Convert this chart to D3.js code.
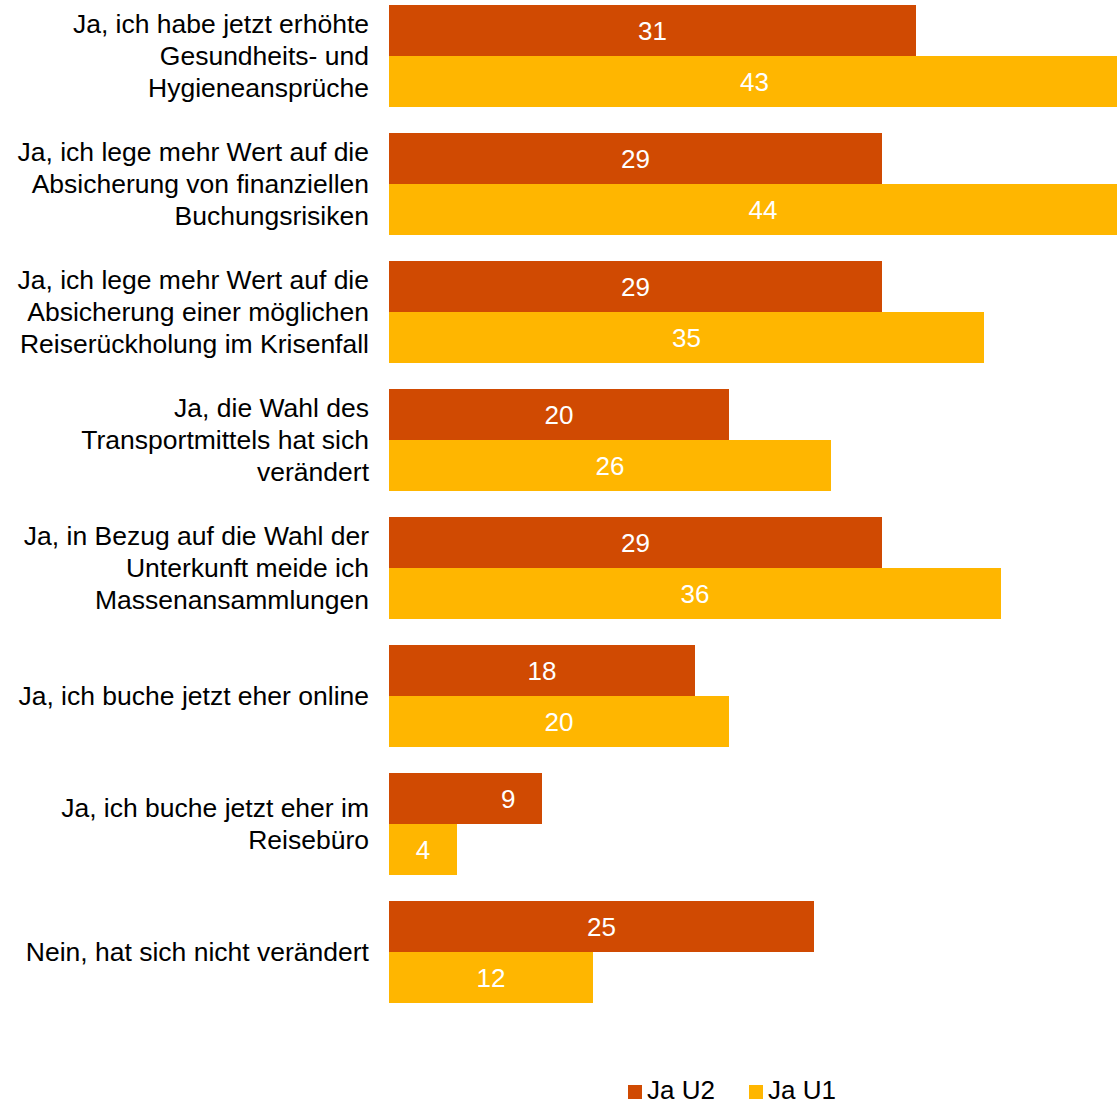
<!DOCTYPE html>
<html><head><meta charset="utf-8">
<script src="https://cdn.jsdelivr.net/npm/d3@7"></script>
<style>html,body{margin:0;padding:0;background:#fff;overflow:hidden}svg{display:block}</style>
</head><body>
<script>
const categories = [
  ["Ja, ich habe jetzt erhöhte","Gesundheits- und","Hygieneansprüche"],
  ["Ja, ich lege mehr Wert auf die","Absicherung von finanziellen","Buchungsrisiken"],
  ["Ja, ich lege mehr Wert auf die","Absicherung einer möglichen","Reiserückholung im Krisenfall"],
  ["Ja, die Wahl des","Transportmittels hat sich","verändert"],
  ["Ja, in Bezug auf die Wahl der","Unterkunft meide ich","Massenansammlungen"],
  ["Ja, ich buche jetzt eher online"],
  ["Ja, ich buche jetzt eher im","Reisebüro"],
  ["Nein, hat sich nicht verändert"]
];
const seriesNames = ["Ja U2","Ja U1"];
const valuesU2 = [31,29,29,20,29,18,9,25];
const valuesU1 = [43,44,35,26,36,20,4,12];
const colors = ["#D04A02","#FFB600"];

const W = 1117, H = 1104;
const FS = "26.5px";
const svg = d3.select("body").append("svg").attr("width",W).attr("height",H)
  .style("font-family","'Liberation Sans', Arial, sans-serif");

const x = d3.scaleLinear().domain([0,43]).range([389,389+43*17]);
const yb = d3.scaleBand().domain(d3.range(categories.length)).range([-8, 1016]).paddingInner(26/128).paddingOuter(13/128);
const sub = d3.scaleBand().domain([0,1]).range([0, yb.bandwidth()]);

// label anchor in the reference is shifted for one small bar (category 6, series U2)
const labelAnchor = (i,k,v) => (i===6 && k===0) ? x(v*0.78) : (x(0)+x(v))/2;

const data = categories.map((c,i)=>({i, c, vals:[valuesU2[i], valuesU1[i]]}));

const g = svg.selectAll("g.cat").data(data).join("g").attr("class","cat")
  .attr("transform", d=>`translate(0,${yb(d.i)})`);

g.selectAll("rect").data(d=>d.vals.map((v,k)=>({v,k}))).join("rect")
  .attr("x", x(0)).attr("y", d=>sub(d.k)).attr("height", sub.bandwidth())
  .attr("width", d=>x(d.v)-x(0)).attr("fill", d=>colors[d.k]);

g.selectAll("text.val").data(d=>d.vals.map((v,k)=>({v,k,i:d.i}))).join("text").attr("class","val")
  .attr("x", d=>labelAnchor(d.i,d.k,d.v)).attr("y", d=>sub(d.k)+sub.bandwidth()/2)
  .attr("dy","0.35em").attr("text-anchor","middle").attr("fill","#fff")
  .attr("font-size","26px").text(d=>d.v);

g.each(function(d){
  const n = d.c.length;
  const t = d3.select(this).append("text").attr("text-anchor","end").attr("font-size",FS).attr("fill","#000");
  d.c.forEach((line,j)=>{
    t.append("tspan").attr("x",369).attr("y", yb.bandwidth()/2 + (j-(n-1)/2)*32).attr("dy","0.35em").text(line);
  });
});

const leg = svg.append("g");
const legX = [628, 749];
seriesNames.forEach((s,k)=>{
  leg.append("rect").attr("x",legX[k]).attr("y",1085).attr("width",14).attr("height",14).attr("fill",colors[k]);
  leg.append("text").attr("x",legX[k]+19).attr("y",1099).attr("font-size","26px").attr("fill","#000").text(s);
});
</script>
</body></html>
